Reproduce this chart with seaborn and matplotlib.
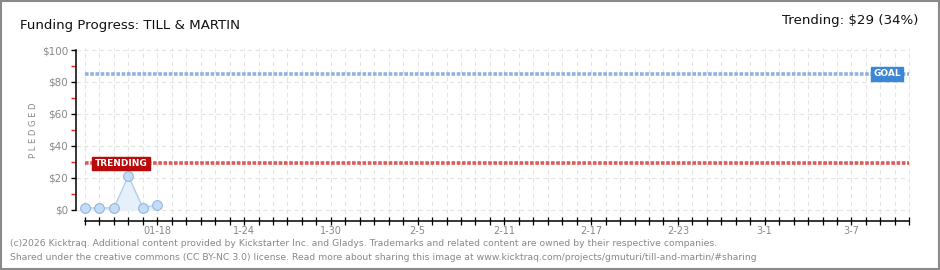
import matplotlib
matplotlib.use("Agg")
import matplotlib.pyplot as plt
import matplotlib.dates as mdates
import seaborn as sns
import pandas as pd
import numpy as np

# ---- data ----
dates = ["2026-01-13", "2026-01-14", "2026-01-15", "2026-01-16", "2026-01-17", "2026-01-18"]
pledged = [1, 1, 1, 21, 1, 3]
goal = 85
trending = 29
x_start = "2026-01-13"
x_end = "2026-03-11"
label_dates = ["2026-01-18", "2026-01-24", "2026-01-30", "2026-02-05", "2026-02-11",
               "2026-02-17", "2026-02-23", "2026-03-01", "2026-03-07"]
label_texts = ["01-18", "1-24", "1-30", "2-5", "2-11", "2-17", "2-23", "3-1", "3-7"]
y_major = [0, 20, 40, 60, 80, 100]
y_major_labels = ["$0", "$20", "$40", "$60", "$80", "$100"]
y_minor = [10, 30, 50, 70, 90]

sns.set_theme(style="white")
plt.rcParams["font.family"] = ["DejaVu Sans"]

df = pd.DataFrame({"date": pd.to_datetime(dates), "pledged": pledged})

fig = plt.figure(figsize=(9.4, 2.7), dpi=100)
fig.patch.set_facecolor("white")
ax = fig.add_axes([76 / 940, 1 - 221 / 270, (910 - 76) / 940, (221 - 48) / 270])

x0 = pd.Timestamp(x_start)
x1 = pd.Timestamp(x_end)
x0n = mdates.date2num(x0)
x1n = mdates.date2num(x1)

# fill + line + markers
ax.fill_between(df["date"], df["pledged"], 0, color="#e6f0fb", zorder=2)
sns.lineplot(data=df, x="date", y="pledged", ax=ax, color="#b3cfee", lw=1,
             marker="o", markersize=7, markerfacecolor="#c4dcf6",
             markeredgecolor="#95b6dc", markeredgewidth=0.8, zorder=4)

# goal / trending lines
ax.hlines(goal, x0n, x1n, color="#8fb2de", lw=2.6, linestyle=(0, (1.0, 0.45)), zorder=3)
ax.hlines(trending, x0n, x1n, color="#dd5a5a", lw=2.6, linestyle=(0, (1.0, 0.45)), zorder=3)

ax.set_xlim(x0n - 0.62, x1n + 0.05)
ax.set_ylim(-7.2, 101.3)

# label boxes
ax.text(x0n + 2.5, trending, "TRENDING", color="white", fontsize=6.5,
        fontweight="bold", ha="center", va="center", zorder=6,
        bbox=dict(boxstyle="square,pad=0.25", facecolor="#bb0a0a", edgecolor="#bb0a0a"))
ax.text(x1n - 1.55, goal, "GOAL", color="white", fontsize=6.5,
        fontweight="bold", ha="center", va="center", zorder=6,
        bbox=dict(boxstyle="square,pad=0.25", facecolor="#3b86d6", edgecolor="#3b86d6"))

# x ticks daily
days = pd.date_range(x0, x1, freq="D")
ax.set_xticks(mdates.date2num(days))
lab_map = dict(zip(pd.to_datetime(label_dates), label_texts))
ax.set_xticklabels([lab_map.get(d, "") for d in days])
ax.tick_params(axis="x", which="major", bottom=True, direction="inout", length=5.5, width=0.9,
               color="black", labelsize=7, labelcolor="#888888", pad=1)

# y ticks
ax.set_yticks(y_major)
ax.set_yticklabels(y_major_labels)
ax.set_yticks(y_minor, minor=True)
ax.tick_params(axis="y", which="major", left=True, direction="out", length=3.5, width=1.0,
               color="black", labelsize=7.5, labelcolor="#888888", pad=2)
ax.tick_params(axis="y", which="minor", left=True, direction="out", length=3.5, width=1.0,
               color="#dd2222")

# grid
ax.grid(True, which="major", axis="both", color="#e3e3e3", lw=0.8,
        linestyle=(0, (4, 3)), zorder=0)
ax.set_axisbelow(True)

for s in ["top", "right"]:
    ax.spines[s].set_visible(False)
for s in ["left", "bottom"]:
    ax.spines[s].set_color("black")
    ax.spines[s].set_linewidth(1.1)
ax.spines["left"].set_bounds(0, 100)
ax.spines["bottom"].set_bounds(x0n, x1n)

ax.set_xlabel("")
ax.set_ylabel("")

fig.text(33 / 940, 1 - 130 / 270, "P L E D G E D", rotation=90, fontsize=6,
         color="#888888", ha="center", va="center")

# titles
fig.text(20 / 940, 1 - 25 / 270, "Funding Progress: TILL & MARTIN", fontsize=9.6,
         color="#111111", ha="left", va="center")
fig.text(918 / 940, 1 - 21 / 270, "Trending: $29 (34%)", fontsize=9.6,
         color="#111111", ha="right", va="center")

# footer
fig.text(10 / 940, 1 - 243 / 270,
         "(c)2026 Kicktraq. Additional content provided by Kickstarter Inc. and Gladys. "
         "Trademarks and related content are owned by their respective companies.",
         fontsize=6.7, color="#888888", ha="left", va="center")
fig.text(10 / 940, 1 - 257 / 270,
         "Shared under the creative commons (CC BY-NC 3.0) license. Read more about sharing "
         "this image at www.kicktraq.com/projects/gmuturi/till-and-martin/#sharing",
         fontsize=6.7, color="#888888", ha="left", va="center")

# frame
fig.add_artist(plt.Rectangle((0.001, 0.002), 0.998, 0.996, transform=fig.transFigure,
                             fill=False, edgecolor="#8a8a8a", lw=1.5))

fig.savefig("out.png", dpi=100)
